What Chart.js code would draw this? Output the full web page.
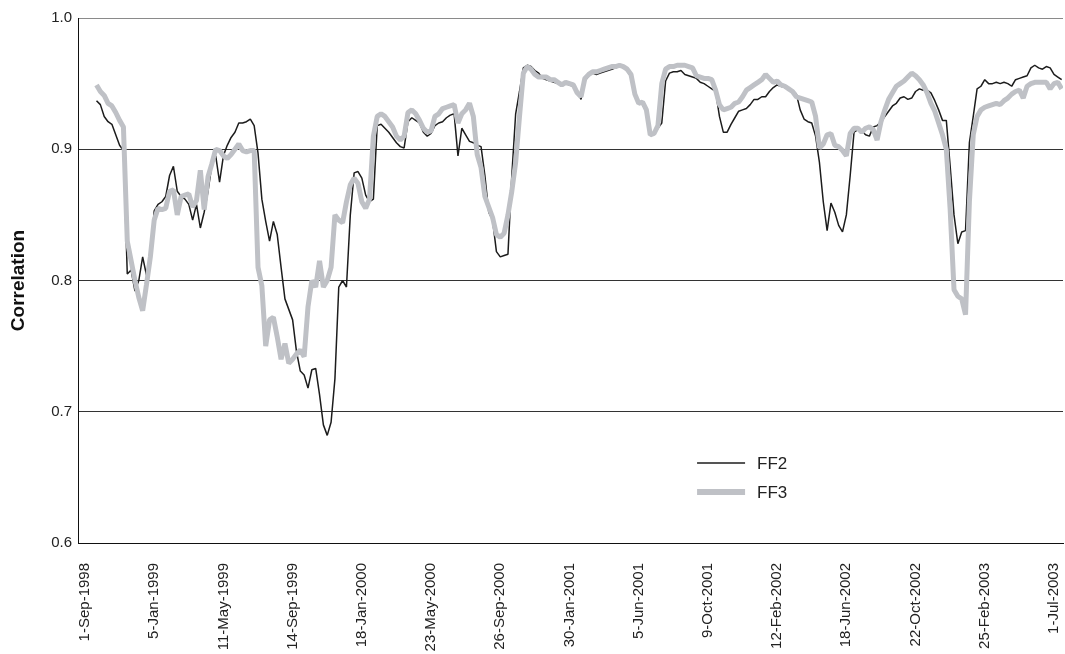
<!DOCTYPE html>
<html>
<head>
<meta charset="utf-8">
<script src="https://cdn.jsdelivr.net/npm/chart.js@4.4.1/dist/chart.umd.min.js"></script>
<style>
  html, body { margin: 0; padding: 0; background: #ffffff; }
  #wrap { width: 1065px; height: 654px; }
</style>
</head>
<body>
<div id="wrap"><canvas id="chart" width="1065" height="654"></canvas></div>
<script>
// Weekly observations (Tuesdays), first one on 22-Sep-1998
const seriesStart = '1998-09-22';
const weekStep = 7;

// Axis labels every 18 weeks
const tickLabels = [
  '1-Sep-1998', '5-Jan-1999', '11-May-1999', '14-Sep-1999', '18-Jan-2000',
  '23-May-2000', '26-Sep-2000', '30-Jan-2001', '5-Jun-2001', '9-Oct-2001',
  '12-Feb-2002', '18-Jun-2002', '22-Oct-2002', '25-Feb-2003', '1-Jul-2003'
];

const ff2 = [
  0.937, 0.934, 0.925, 0.921, 0.919, 0.911, 0.903, 0.899, 0.805, 0.808,
  0.792, 0.800, 0.818, 0.804, 0.815, 0.853, 0.858, 0.860, 0.864, 0.880,
  0.887, 0.868, 0.864, 0.862, 0.858, 0.846, 0.858, 0.840, 0.852, 0.868,
  0.888, 0.895, 0.875, 0.895, 0.903, 0.909, 0.913, 0.920, 0.920, 0.921,
  0.923, 0.918, 0.897, 0.862, 0.845, 0.830, 0.845, 0.835, 0.810, 0.786,
  0.778, 0.770, 0.746, 0.731, 0.728, 0.718, 0.732, 0.733, 0.713, 0.690,
  0.682, 0.692, 0.725, 0.795, 0.800, 0.795, 0.850, 0.882, 0.883, 0.878,
  0.865, 0.860, 0.862, 0.918, 0.919, 0.916, 0.913, 0.909, 0.905, 0.902,
  0.901, 0.921, 0.924, 0.922, 0.920, 0.913, 0.910, 0.912, 0.918, 0.920,
  0.921, 0.924, 0.926, 0.927, 0.895, 0.916, 0.911, 0.906, 0.905, 0.903,
  0.902, 0.880, 0.852, 0.846, 0.822, 0.818, 0.819, 0.820, 0.880, 0.927,
  0.944, 0.962, 0.964, 0.963, 0.960, 0.958, 0.954, 0.953, 0.952, 0.951,
  0.950, 0.948, 0.950, 0.949, 0.948, 0.945, 0.938, 0.952, 0.956, 0.958,
  0.957, 0.958, 0.959, 0.960, 0.961, 0.962, 0.963, 0.962, 0.960, 0.955,
  0.945, 0.935, 0.934, 0.928, 0.913, 0.912, 0.916, 0.920, 0.952, 0.958,
  0.959, 0.959, 0.960, 0.957, 0.956, 0.955, 0.954, 0.951, 0.950, 0.948,
  0.946, 0.944, 0.925, 0.913, 0.913, 0.919, 0.924, 0.929, 0.930, 0.931,
  0.934, 0.938, 0.938, 0.940, 0.940, 0.944, 0.947, 0.949, 0.948, 0.947,
  0.946, 0.945, 0.942, 0.930, 0.923, 0.921, 0.920, 0.910, 0.890, 0.860,
  0.838, 0.859, 0.852, 0.842, 0.837, 0.850, 0.880, 0.913, 0.915, 0.914,
  0.911, 0.910, 0.917, 0.918, 0.921, 0.925, 0.929, 0.933, 0.935, 0.939,
  0.940, 0.938, 0.939, 0.944, 0.946, 0.945, 0.945, 0.943, 0.937, 0.930,
  0.922, 0.922, 0.887, 0.850, 0.828, 0.837, 0.838, 0.905, 0.925, 0.946,
  0.948, 0.953, 0.950, 0.950, 0.951, 0.950, 0.951, 0.950, 0.948, 0.953,
  0.954, 0.955, 0.956, 0.962, 0.964, 0.962, 0.961, 0.963, 0.962, 0.957,
  0.955, 0.953
];

const ff3 = [
  0.949, 0.944, 0.941, 0.935, 0.933, 0.928, 0.922, 0.917, 0.830, 0.815,
  0.800, 0.787, 0.777, 0.797, 0.818, 0.846, 0.855, 0.854, 0.855, 0.868,
  0.869, 0.850, 0.864, 0.865, 0.866, 0.856, 0.861, 0.884, 0.854, 0.879,
  0.889, 0.900, 0.899, 0.895, 0.893, 0.896, 0.900, 0.904, 0.899, 0.898,
  0.899, 0.899, 0.810, 0.796, 0.750, 0.770, 0.772, 0.757, 0.740, 0.752,
  0.737, 0.740, 0.744, 0.747, 0.742, 0.780, 0.800, 0.795, 0.815, 0.795,
  0.800, 0.810, 0.850, 0.846, 0.844, 0.860, 0.873, 0.878, 0.874, 0.860,
  0.855, 0.862, 0.910, 0.925, 0.927, 0.925, 0.921, 0.917, 0.910, 0.907,
  0.910, 0.928, 0.930, 0.927, 0.922, 0.916, 0.913, 0.914, 0.925, 0.927,
  0.931, 0.932, 0.933, 0.934, 0.920, 0.927, 0.930, 0.935, 0.925, 0.896,
  0.886, 0.864, 0.856, 0.848, 0.835, 0.833, 0.836, 0.850, 0.868, 0.890,
  0.925, 0.958, 0.963, 0.961, 0.957, 0.955, 0.955, 0.955, 0.953, 0.953,
  0.951, 0.949, 0.951, 0.950, 0.949, 0.943, 0.940, 0.954, 0.957, 0.959,
  0.959, 0.960, 0.961, 0.962, 0.963, 0.963, 0.964, 0.963, 0.961, 0.957,
  0.942, 0.935, 0.936, 0.930, 0.911, 0.912, 0.918, 0.950, 0.961, 0.963,
  0.963, 0.964, 0.964, 0.964, 0.963, 0.962, 0.956, 0.955, 0.954, 0.954,
  0.953, 0.945, 0.934, 0.930, 0.931, 0.932, 0.935, 0.936, 0.940, 0.945,
  0.947, 0.949, 0.951, 0.953, 0.957, 0.954, 0.951, 0.952, 0.949, 0.948,
  0.946, 0.944, 0.940, 0.939, 0.938, 0.937, 0.936, 0.925, 0.901, 0.904,
  0.911, 0.912, 0.903, 0.902, 0.899, 0.895, 0.912, 0.916, 0.916, 0.913,
  0.916, 0.917, 0.915, 0.907, 0.921, 0.930, 0.938, 0.943, 0.948, 0.950,
  0.952, 0.955, 0.958, 0.956, 0.953, 0.949, 0.943, 0.935, 0.929, 0.920,
  0.911, 0.900, 0.854, 0.793, 0.788, 0.786, 0.774, 0.860, 0.911, 0.925,
  0.930, 0.932, 0.933, 0.934, 0.935, 0.934, 0.937, 0.939, 0.942, 0.944,
  0.945, 0.939, 0.948, 0.950, 0.951, 0.951, 0.951, 0.951, 0.946, 0.950,
  0.951, 0.946
];

// Day numbers counted from the first axis label
const DAY_MS = 86400000;
const MONTHS = { Jan: 0, Feb: 1, Mar: 2, Apr: 3, May: 4, Jun: 5, Jul: 6, Aug: 7, Sep: 8, Oct: 9, Nov: 10, Dec: 11 };
function parseLabel(s) {
  const [d, m, y] = s.split('-');
  return Date.UTC(+y, MONTHS[m], +d);
}
const origin = parseLabel(tickLabels[0]);
const tickDays = tickLabels.map(s => Math.round((parseLabel(s) - origin) / DAY_MS));
const firstDay = Math.round((Date.parse(seriesStart + 'T00:00:00Z') - origin) / DAY_MS);
const toPoints = arr => arr.map((v, i) => ({ x: firstDay + weekStep * i, y: v }));

const labelByDay = {};
tickDays.forEach((d, i) => { labelByDay[d] = tickLabels[i]; });

// Legend drawn inside the plot, lower middle-right
const insideLegend = {
  id: 'insideLegend',
  afterDraw(chart) {
    const { ctx, chartArea } = chart;
    const x0 = chartArea.left + (chartArea.right - chartArea.left) * 0.6285;
    const rows = [
      { ds: chart.data.datasets[0], fy: 0.8476 },
      { ds: chart.data.datasets[1], fy: 0.9028 }
    ];
    ctx.save();
    ctx.font = '17px "Liberation Sans", Arial, sans-serif';
    ctx.textBaseline = 'middle';
    ctx.fillStyle = '#222222';
    rows.forEach(r => {
      const y = chartArea.top + (chartArea.bottom - chartArea.top) * r.fy;
      ctx.beginPath();
      ctx.strokeStyle = r.ds.borderColor;
      ctx.lineWidth = r.ds.borderWidth + (r.ds.borderWidth > 2 ? 1 : 0);
      ctx.lineCap = 'butt';
      ctx.moveTo(x0, y);
      ctx.lineTo(x0 + 48, y);
      ctx.stroke();
      ctx.fillText(r.ds.label, x0 + 60, y + 1);
    });
    ctx.restore();
  }
};

new Chart(document.getElementById('chart'), {
  type: 'line',
  data: {
    datasets: [
      {
        label: 'FF2',
        data: toPoints(ff2),
        borderColor: '#1c1c1c',
        borderWidth: 1.5,
        pointRadius: 0,
        tension: 0,
        borderJoinStyle: 'bevel',
        order: 1
      },
      {
        label: 'FF3',
        data: toPoints(ff3),
        borderColor: '#bfc1c6',
        borderWidth: 5,
        pointRadius: 0,
        tension: 0,
        borderJoinStyle: 'bevel',
        order: 0
      }
    ]
  },
  options: {
    responsive: false,
    devicePixelRatio: 1,
    animation: false,
    layout: { padding: { top: 18, right: 2, left: 0, bottom: 0 } },
    plugins: {
      legend: { display: false },
      tooltip: { enabled: false }
    },
    scales: {
      x: {
        type: 'linear',
        min: -12.7,
        max: 1780.4,
        afterBuildTicks(scale) {
          scale.ticks = tickDays.map(v => ({ value: v }));
        },
        afterFit(scale) {
          scale.height = 111;
          scale.paddingLeft = 0;
          scale.paddingRight = 0;
        },
        grid: { display: false },
        border: { display: true, color: '#111111', width: 1 },
        ticks: {
          autoSkip: false,
          minRotation: 90,
          maxRotation: 90,
          padding: 12,
          color: '#222222',
          font: { family: '"Liberation Sans", Arial, sans-serif', size: 15 },
          callback: v => labelByDay[v] || ''
        }
      },
      y: {
        min: 0.6,
        max: 1.0,
        afterFit(scale) {
          scale.width = 78;
          scale.paddingTop = 0;
          scale.paddingBottom = 0;
        },
        grid: {
          drawTicks: false,
          color: ctx => (ctx.tick && ctx.tick.value >= 0.999 ? '#8a8a8a' : '#333333'),
          lineWidth: 1
        },
        border: { display: true, color: '#111111', width: 1 },
        ticks: {
          stepSize: 0.1,
          padding: 6,
          color: '#222222',
          font: { family: '"Liberation Sans", Arial, sans-serif', size: 15 },
          callback: v => v.toFixed(1)
        },
        title: {
          display: true,
          text: 'Correlation',
          color: '#111111',
          padding: { top: 7, bottom: 0 },
          font: { family: '"Liberation Sans Narrow", "Liberation Sans", Arial, sans-serif', size: 19, weight: 'bold' }
        }
      }
    }
  },
  plugins: [insideLegend]
});
</script>
</body>
</html>
